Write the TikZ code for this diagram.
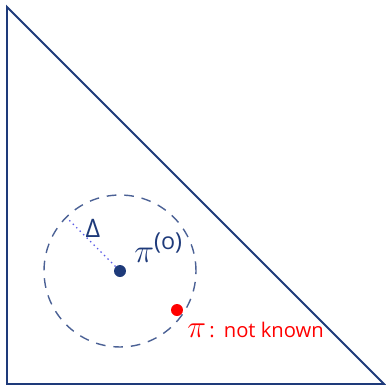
\RequirePackage{fix-cm}
\documentclass[tikz,border=0pt]{standalone}
\usepackage{fontspec}
\usepackage{amsmath}
\setsansfont{Open Sans}
\usetikzlibrary{positioning}
\definecolor{navy}{RGB}{30,58,122}
\definecolor{lineblue}{RGB}{90,90,230}

\begin{document}
\begin{tikzpicture}[x=0.02cm,y=-0.02cm,font=\sffamily]
\useasboundingbox (0,0) rectangle (386,386);
\coordinate (T) at (7,7);
\coordinate (L) at (7,384);
\coordinate (R) at (384,384);
\draw[navy,line width=1.1pt] (T) -- (L) -- (R) -- cycle;

\node[circle,fill=navy,inner sep=0pt,minimum size=0.24cm] (o) at (120,271) {};
\node[circle,fill=red,inner sep=0pt,minimum size=0.24cm] (p) at (177,310) {};

\draw[navy!80,line width=0.8pt,dash pattern=on 5.5pt off 4.5pt] (o) circle[radius=1.52cm];
\coordinate (d) at (68,219);
\draw[lineblue,line width=0.8pt,dotted] (o) -- (d);

\node[navy,font=\sffamily\fontsize{14.5}{17}\selectfont] (delta) at (93,228) {Δ};
\node[navy,anchor=base west,inner sep=0pt,font=\sffamily\fontsize{19}{22}\selectfont]
  (po) at (134,262) {$\pi^{\textsf{(o)}}$};
\node[red,anchor=base west,inner sep=0pt,font=\sffamily\fontsize{11.5}{14}\selectfont]
  (pl) at (187,337) {{\fontsize{18}{21}\selectfont$\pi$}\,:\hspace{0.45em}not known};
\end{tikzpicture}
\end{document}
